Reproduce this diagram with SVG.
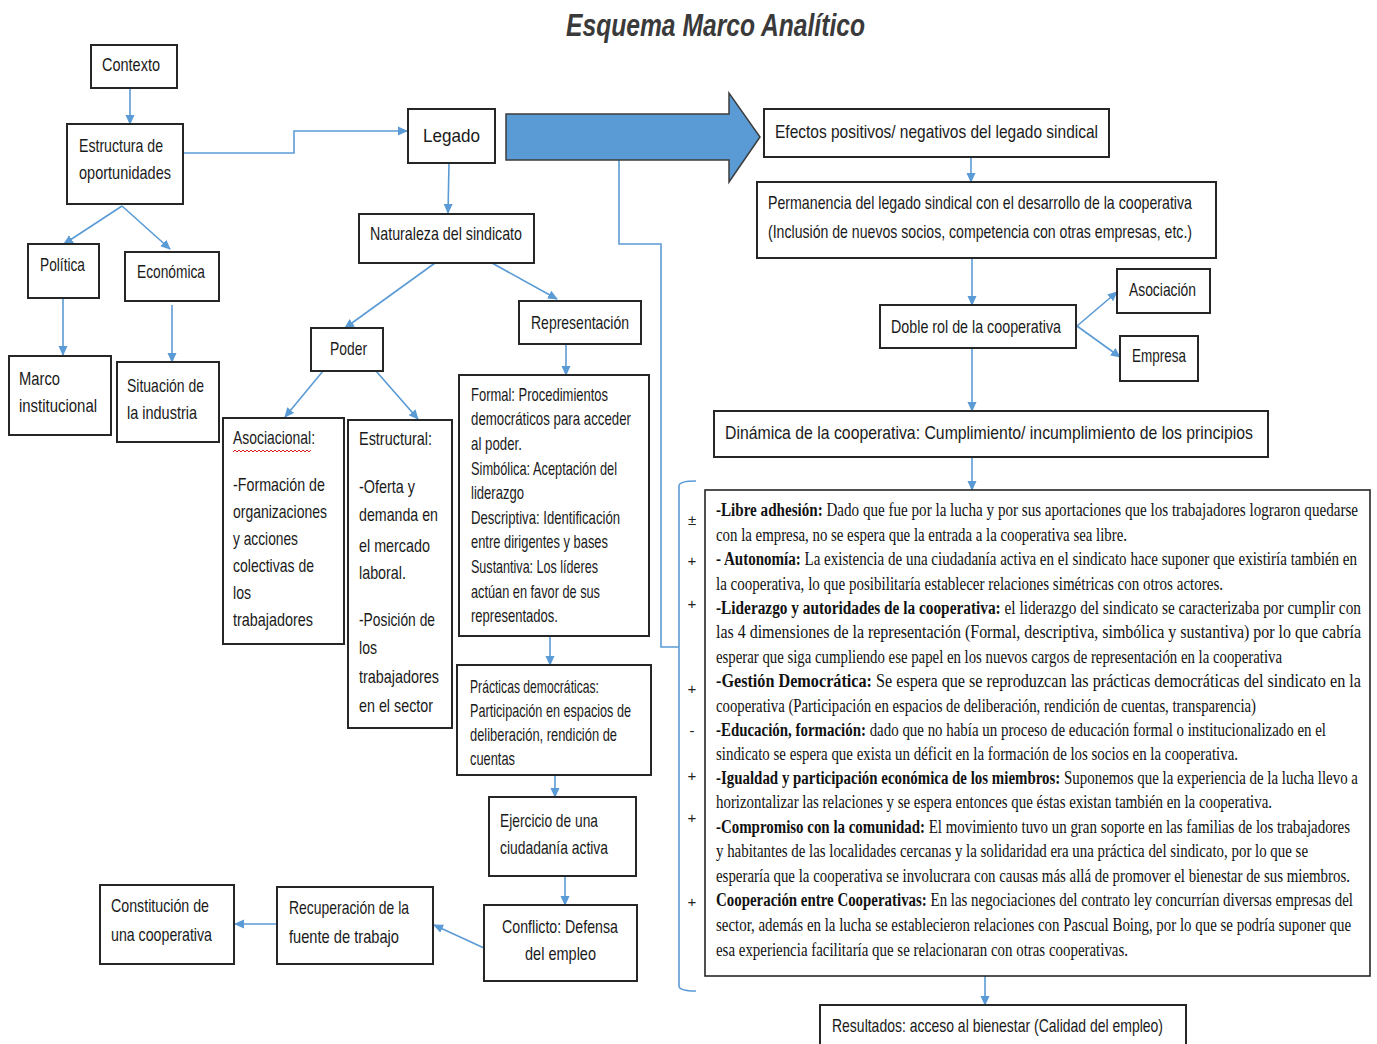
<svg xmlns="http://www.w3.org/2000/svg" width="1377" height="1044" viewBox="0 0 1377 1044">
<style>
.bg{fill:#ffffff}
.box{fill:#ffffff;stroke:#262626;stroke-width:2}
.t{font-family:"Liberation Sans Narrow","Liberation Sans",sans-serif;font-size:19px;fill:#1a1a1a}
.s{font-family:"Liberation Serif",serif;font-size:18px;fill:#111111}
.c{fill:none;stroke:#5B9BD5;stroke-width:1.6}
.sg{font-family:"Liberation Sans",sans-serif;font-size:15px;fill:#222;text-anchor:middle}
</style>
<defs>
<marker id="ah" markerWidth="10" markerHeight="10" refX="9" refY="5" orient="auto" markerUnits="userSpaceOnUse">
<path d="M0,0.5 L10,5 L0,9.5 z" fill="#5B9BD5"/>
</marker>
</defs>
<rect class="bg" x="0" y="0" width="1377" height="1044"/>
<text x="566" y="36" font-family="'Liberation Sans Narrow','Liberation Sans',sans-serif" font-size="32" font-weight="bold" font-style="italic" fill="#3a3a3a" textLength="299" lengthAdjust="spacingAndGlyphs">Esquema Marco Analítico</text>

<g id="connectors">
<path class="c" d="M130,88 V124" marker-end="url(#ah)"/>
<path class="c" d="M183,153 H294 V131 H407" marker-end="url(#ah)"/>
<path class="c" d="M122,206 L64,244" marker-end="url(#ah)"/>
<path class="c" d="M122,206 L170,249" marker-end="url(#ah)"/>
<path class="c" d="M63,298 V355" marker-end="url(#ah)"/>
<path class="c" d="M172,305 V362" marker-end="url(#ah)"/>
<path class="c" d="M449,163 L448,213" marker-end="url(#ah)"/>
<path class="c" d="M435,263 L345,328" marker-end="url(#ah)"/>
<path class="c" d="M492,263 L557,299" marker-end="url(#ah)"/>
<path class="c" d="M323,371 L285,417" marker-end="url(#ah)"/>
<path class="c" d="M376,371 L418,419" marker-end="url(#ah)"/>
<path class="c" d="M566,344 V375" marker-end="url(#ah)"/>
<path class="c" d="M550,636 V665" marker-end="url(#ah)"/>
<path class="c" d="M555,776 V797" marker-end="url(#ah)"/>
<path class="c" d="M565,876 V905" marker-end="url(#ah)"/>
<path class="c" d="M484,948 L434,925" marker-end="url(#ah)"/>
<path class="c" d="M277,924 H235" marker-end="url(#ah)"/>
<path class="c" d="M971,157 V182" marker-end="url(#ah)"/>
<path class="c" d="M972,258 V305" marker-end="url(#ah)"/>
<path class="c" d="M1077,326 L1117,292" marker-end="url(#ah)"/>
<path class="c" d="M1077,326 L1120,357" marker-end="url(#ah)"/>
<path class="c" d="M972,348 V411" marker-end="url(#ah)"/>
<path class="c" d="M972,457 V490" marker-end="url(#ah)"/>
<path class="c" d="M985,976 V1005" marker-end="url(#ah)"/>
<path class="c" d="M619,160 V244 H661 V647 H679"/>
<path class="c" d="M696,481 Q679,481 679,486 V986 Q679,991 696,991"/>
</g>

<g id="big-arrow">
<polygon points="506,114 729,114 729,93 760,137 729,182 729,160 506,160" fill="#5B9BD5" stroke="#3c3c3c" stroke-width="1.5"/>
</g>

<g id="contexto"><rect class="box" x="91" y="45" width="86" height="43"/><text class="t" x="102" y="71" textLength="58" lengthAdjust="spacingAndGlyphs">Contexto</text></g>
<g id="estructura"><rect class="box" x="67" y="124" width="116" height="80"/><text class="t" x="79" y="152" textLength="84" lengthAdjust="spacingAndGlyphs">Estructura de</text><text class="t" x="79" y="179" textLength="92" lengthAdjust="spacingAndGlyphs">oportunidades</text></g>
<g id="legado"><rect class="box" x="408" y="109" width="87" height="54"/><text class="t" x="423" y="142" font-size="27" textLength="57" lengthAdjust="spacingAndGlyphs">Legado</text></g>
<g id="naturaleza"><rect class="box" x="359" y="214" width="175" height="49"/><text class="t" x="370" y="240" textLength="152" lengthAdjust="spacingAndGlyphs">Naturaleza del sindicato</text></g>
<g id="politica"><rect class="box" x="28" y="244" width="71" height="54"/><text class="t" x="40" y="271" textLength="45" lengthAdjust="spacingAndGlyphs">Política</text></g>
<g id="economica"><rect class="box" x="125" y="252" width="94" height="49"/><text class="t" x="137" y="278" textLength="68" lengthAdjust="spacingAndGlyphs">Económica</text></g>
<g id="marco"><rect class="box" x="9" y="356" width="102" height="79"/><text class="t" x="19" y="385" textLength="41" lengthAdjust="spacingAndGlyphs">Marco</text><text class="t" x="19" y="412" textLength="78" lengthAdjust="spacingAndGlyphs">institucional</text></g>
<g id="situacion"><rect class="box" x="117" y="362" width="102" height="80"/><text class="t" x="127" y="392" textLength="77" lengthAdjust="spacingAndGlyphs">Situación de</text><text class="t" x="127" y="419" textLength="70" lengthAdjust="spacingAndGlyphs">la industria</text></g>
<g id="poder"><rect class="box" x="311" y="328" width="72" height="43"/><text class="t" x="330" y="355" textLength="37" lengthAdjust="spacingAndGlyphs">Poder</text></g>
<g id="representacion"><rect class="box" x="519" y="301" width="122" height="43"/><text class="t" x="531" y="329" textLength="98" lengthAdjust="spacingAndGlyphs">Representación</text></g>
<g id="asociacional"><rect class="box" x="223" y="418" width="121" height="226"/>
<text class="t" x="233" y="444" textLength="82" lengthAdjust="spacingAndGlyphs">Asociacional:</text>
<path d="M233,452 l2,-2 l2,2 l2,-2 l2,2 l2,-2 l2,2 l2,-2 l2,2 l2,-2 l2,2 l2,-2 l2,2 l2,-2 l2,2 l2,-2 l2,2 l2,-2 l2,2 l2,-2 l2,2 l2,-2 l2,2 l2,-2 l2,2 l2,-2 l2,2 l2,-2 l2,2 l2,-2 l2,2 l2,-2 l2,2 l2,-2 l2,2 l2,-2 l2,2 l2,-2 l2,2 l2,-2" fill="none" stroke="#e02020" stroke-width="1"/>
<text class="t" x="233" y="491" textLength="92" lengthAdjust="spacingAndGlyphs">-Formación de</text>
<text class="t" x="233" y="518" textLength="94" lengthAdjust="spacingAndGlyphs">organizaciones</text>
<text class="t" x="233" y="545" textLength="65" lengthAdjust="spacingAndGlyphs">y acciones</text>
<text class="t" x="233" y="572" textLength="81" lengthAdjust="spacingAndGlyphs">colectivas de</text>
<text class="t" x="233" y="599" textLength="18" lengthAdjust="spacingAndGlyphs">los</text>
<text class="t" x="233" y="626" textLength="80" lengthAdjust="spacingAndGlyphs">trabajadores</text></g>
<g id="estructural"><rect class="box" x="348" y="420" width="104" height="308"/>
<text class="t" x="359" y="445" textLength="73" lengthAdjust="spacingAndGlyphs">Estructural:</text>
<text class="t" x="359" y="493" textLength="56" lengthAdjust="spacingAndGlyphs">-Oferta y</text>
<text class="t" x="359" y="521" textLength="79" lengthAdjust="spacingAndGlyphs">demanda en</text>
<text class="t" x="359" y="552" textLength="71" lengthAdjust="spacingAndGlyphs">el mercado</text>
<text class="t" x="359" y="579" textLength="47" lengthAdjust="spacingAndGlyphs">laboral.</text>
<text class="t" x="359" y="626" textLength="76" lengthAdjust="spacingAndGlyphs">-Posición de</text>
<text class="t" x="359" y="654" textLength="18" lengthAdjust="spacingAndGlyphs">los</text>
<text class="t" x="359" y="683" textLength="80" lengthAdjust="spacingAndGlyphs">trabajadores</text>
<text class="t" x="359" y="712" textLength="74" lengthAdjust="spacingAndGlyphs">en el sector</text></g>
<g id="formal"><rect class="box" x="459" y="375" width="190" height="261"/>
<text class="t" x="471" y="401" textLength="137" lengthAdjust="spacingAndGlyphs">Formal: Procedimientos</text>
<text class="t" x="471" y="425" textLength="160" lengthAdjust="spacingAndGlyphs">democráticos para acceder</text>
<text class="t" x="471" y="450" textLength="51" lengthAdjust="spacingAndGlyphs">al poder.</text>
<text class="t" x="471" y="475" textLength="146" lengthAdjust="spacingAndGlyphs">Simbólica: Aceptación del</text>
<text class="t" x="471" y="499" textLength="53" lengthAdjust="spacingAndGlyphs">liderazgo</text>
<text class="t" x="471" y="524" textLength="149" lengthAdjust="spacingAndGlyphs">Descriptiva: Identificación</text>
<text class="t" x="471" y="548" textLength="137" lengthAdjust="spacingAndGlyphs">entre dirigentes y bases</text>
<text class="t" x="471" y="573" textLength="127" lengthAdjust="spacingAndGlyphs">Sustantiva: Los líderes</text>
<text class="t" x="471" y="598" textLength="129" lengthAdjust="spacingAndGlyphs">actúan en favor de sus</text>
<text class="t" x="471" y="622" textLength="87" lengthAdjust="spacingAndGlyphs">representados.</text></g>
<g id="practicas"><rect class="box" x="457" y="665" width="194" height="110"/>
<text class="t" x="470" y="693" textLength="129" lengthAdjust="spacingAndGlyphs">Prácticas democráticas:</text>
<text class="t" x="470" y="717" textLength="161" lengthAdjust="spacingAndGlyphs">Participación en espacios de</text>
<text class="t" x="470" y="741" textLength="147" lengthAdjust="spacingAndGlyphs">deliberación, rendición de</text>
<text class="t" x="470" y="765" textLength="45" lengthAdjust="spacingAndGlyphs">cuentas</text></g>
<g id="ejercicio"><rect class="box" x="489" y="797" width="147" height="79"/>
<text class="t" x="500" y="827" textLength="98" lengthAdjust="spacingAndGlyphs">Ejercicio de una</text>
<text class="t" x="500" y="854" textLength="108" lengthAdjust="spacingAndGlyphs">ciudadanía activa</text></g>
<g id="conflicto"><rect class="box" x="484" y="905" width="153" height="76"/>
<text class="t" x="502" y="933" textLength="116" lengthAdjust="spacingAndGlyphs">Conflicto: Defensa</text>
<text class="t" x="525" y="960" textLength="71" lengthAdjust="spacingAndGlyphs">del empleo</text></g>
<g id="recuperacion"><rect class="box" x="277" y="887" width="156" height="77"/>
<text class="t" x="289" y="914" textLength="120" lengthAdjust="spacingAndGlyphs">Recuperación de la</text>
<text class="t" x="289" y="943" textLength="110" lengthAdjust="spacingAndGlyphs">fuente de trabajo</text></g>
<g id="constitucion"><rect class="box" x="100" y="885" width="134" height="79"/>
<text class="t" x="111" y="912" textLength="98" lengthAdjust="spacingAndGlyphs">Constitución de</text>
<text class="t" x="111" y="941" textLength="101" lengthAdjust="spacingAndGlyphs">una cooperativa</text></g>
<g id="efectos"><rect class="box" x="764" y="109" width="345" height="48"/>
<text class="t" x="775" y="138" textLength="323" lengthAdjust="spacingAndGlyphs">Efectos positivos/ negativos del legado sindical</text></g>
<g id="permanencia"><rect class="box" x="757" y="182" width="459" height="76"/>
<text class="t" x="768" y="209" textLength="424" lengthAdjust="spacingAndGlyphs">Permanencia del legado sindical con el desarrollo de la cooperativa</text>
<text class="t" x="768" y="238" textLength="424" lengthAdjust="spacingAndGlyphs">(Inclusión de nuevos socios, competencia con otras empresas, etc.)</text></g>
<g id="doble-rol"><rect class="box" x="880" y="305" width="196" height="43"/>
<text class="t" x="891" y="333" textLength="170" lengthAdjust="spacingAndGlyphs">Doble rol de la cooperativa</text></g>
<g id="asociacion"><rect class="box" x="1117" y="269" width="93" height="44"/>
<text class="t" x="1129" y="296" textLength="67" lengthAdjust="spacingAndGlyphs">Asociación</text></g>
<g id="empresa"><rect class="box" x="1120" y="336" width="78" height="45"/>
<text class="t" x="1132" y="362" textLength="54" lengthAdjust="spacingAndGlyphs">Empresa</text></g>
<g id="dinamica"><rect class="box" x="714" y="411" width="554" height="46"/>
<text class="t" x="725" y="439" textLength="528" lengthAdjust="spacingAndGlyphs">Dinámica de la cooperativa: Cumplimiento/ incumplimiento de los principios</text></g>
<g id="signos">
<text class="sg" x="692" y="525">±</text>
<text class="sg" x="692" y="566">+</text>
<text class="sg" x="692" y="609">+</text>
<text class="sg" x="692" y="694">+</text>
<text class="sg" x="692" y="736">-</text>
<text class="sg" x="692" y="781">+</text>
<text class="sg" x="692" y="823">+</text>
<text class="sg" x="692" y="907">+</text>
</g>
<g id="principios"><rect x="705" y="490" width="665" height="486" fill="#fff" stroke="#262626" stroke-width="1.6"/>
<text class="s" x="716" y="516" textLength="642" lengthAdjust="spacingAndGlyphs"><tspan font-weight="bold">-Libre adhesión:</tspan> Dado que fue por la lucha  y por sus aportaciones que los trabajadores lograron quedarse</text>
<text class="s" x="716" y="541" textLength="411" lengthAdjust="spacingAndGlyphs">con la empresa, no se espera que la entrada a la cooperativa sea libre.</text>
<text class="s" x="716" y="565" textLength="641" lengthAdjust="spacingAndGlyphs"><tspan font-weight="bold">- Autonomía:</tspan> La existencia de una ciudadanía activa en el sindicato hace suponer que existiría también en</text>
<text class="s" x="716" y="590" textLength="507" lengthAdjust="spacingAndGlyphs">la cooperativa, lo que posibilitaría  establecer relaciones simétricas con otros actores.</text>
<text class="s" x="716" y="614" textLength="645" lengthAdjust="spacingAndGlyphs"><tspan font-weight="bold">-Liderazgo y autoridades de la cooperativa:</tspan> el liderazgo del sindicato se caracterizaba por cumplir con</text>
<text class="s" x="716" y="638" textLength="645" lengthAdjust="spacingAndGlyphs">las 4 dimensiones de la representación (Formal, descriptiva, simbólica y sustantiva) por lo que cabría</text>
<text class="s" x="716" y="663" textLength="566" lengthAdjust="spacingAndGlyphs">esperar que siga cumpliendo ese papel en los nuevos cargos de representación en la cooperativa</text>
<text class="s" x="716" y="687" textLength="645" lengthAdjust="spacingAndGlyphs"><tspan font-weight="bold">-Gestión Democrática:</tspan> Se espera que se reproduzcan las prácticas democráticas del sindicato en la</text>
<text class="s" x="716" y="712" textLength="540" lengthAdjust="spacingAndGlyphs">cooperativa (Participación en espacios de deliberación, rendición de cuentas, transparencia)</text>
<text class="s" x="716" y="736" textLength="610" lengthAdjust="spacingAndGlyphs"><tspan font-weight="bold">-Educación, formación:</tspan> dado que no había un proceso de educación formal o institucionalizado en el</text>
<text class="s" x="716" y="760" textLength="522" lengthAdjust="spacingAndGlyphs">sindicato se espera que exista un déficit en la formación de los socios en la cooperativa.</text>
<text class="s" x="716" y="784" textLength="642" lengthAdjust="spacingAndGlyphs"><tspan font-weight="bold">-Igualdad y participación económica de los miembros:</tspan> Suponemos que la experiencia de la lucha llevo a</text>
<text class="s" x="716" y="808" textLength="556" lengthAdjust="spacingAndGlyphs">horizontalizar las relaciones y se espera entonces que éstas existan también en la cooperativa.</text>
<text class="s" x="716" y="833" textLength="634" lengthAdjust="spacingAndGlyphs"><tspan font-weight="bold">-Compromiso con la comunidad:</tspan> El movimiento tuvo un gran soporte en las familias de los trabajadores</text>
<text class="s" x="716" y="857" textLength="592" lengthAdjust="spacingAndGlyphs">y habitantes de las localidades cercanas y la solidaridad era una práctica del sindicato, por lo que se</text>
<text class="s" x="716" y="882" textLength="634" lengthAdjust="spacingAndGlyphs">esperaría que la cooperativa se involucrara con causas más allá de promover el bienestar de sus miembros.</text>
<text class="s" x="716" y="906" textLength="637" lengthAdjust="spacingAndGlyphs"><tspan font-weight="bold">Cooperación entre Cooperativas:</tspan> En las negociaciones del contrato ley concurrían diversas empresas del</text>
<text class="s" x="716" y="931" textLength="635" lengthAdjust="spacingAndGlyphs">sector, además en la lucha se establecieron relaciones con Pascual Boing, por lo que se podría suponer que</text>
<text class="s" x="716" y="956" textLength="412" lengthAdjust="spacingAndGlyphs">esa experiencia facilitaría que se relacionaran con otras cooperativas.</text>
</g>
<g id="resultados"><rect class="box" x="820" y="1005" width="366" height="50"/>
<text class="t" x="832" y="1032" textLength="331" lengthAdjust="spacingAndGlyphs">Resultados: acceso al bienestar (Calidad del empleo)</text></g>
</svg>
